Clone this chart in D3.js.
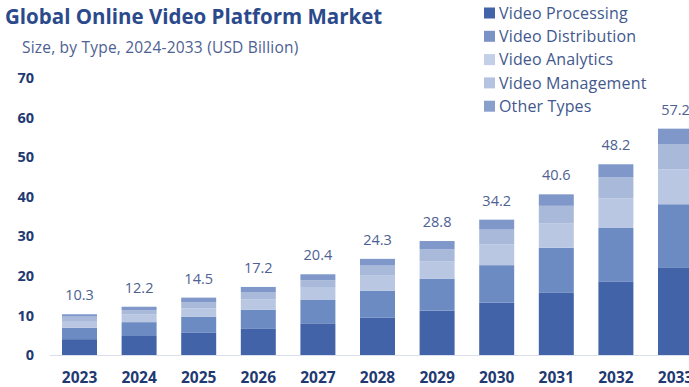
<!DOCTYPE html>
<html>
<head>
<meta charset="utf-8">
<script src="https://cdn.jsdelivr.net/npm/d3@7/dist/d3.min.js"></script>
<style>
  html, body { margin: 0; padding: 0; background: #ffffff; overflow: hidden; }
  svg { display: block; font-family: "Open Sans", "DejaVu Sans", sans-serif; }
</style>
</head>
<body>
<svg id="chart" width="689" height="387"></svg>
<script>
// Market size by type (USD Billion)
const years = ["2023", "2024", "2025", "2026", "2027", "2028", "2029", "2030", "2031", "2032", "2033"];
const seriesNames = ["Video Processing", "Video Distribution", "Video Analytics", "Video Management", "Other Types"];
const videoProcessing   = [4.0, 4.8, 5.6, 6.6, 8.0, 9.4, 11.2, 13.2, 15.7, 18.6, 22.0];
const videoDistribution = [2.9, 3.5, 4.1, 4.8, 5.9, 6.8, 8.1, 9.5, 11.4, 13.5, 16.1];
const videoAnalytics    = [1.5, 2.0, 2.1, 2.7, 3.1, 4.0, 4.4, 5.3, 6.2, 7.5, 8.8];
const videoManagement   = [1.3, 1.0, 1.5, 1.7, 1.9, 2.4, 3.0, 3.7, 4.4, 5.3, 6.3];
const otherTypes        = [0.6, 0.9, 1.2, 1.4, 1.5, 1.7, 2.1, 2.5, 2.9, 3.3, 4.0];
const totals            = [10.3, 12.2, 14.5, 17.2, 20.4, 24.3, 28.8, 34.2, 40.6, 48.2, 57.2];
const yTicks = [0, 10, 20, 30, 40, 50, 60, 70];

const colors = ["#4263a8", "#6c8bc2", "#b9c7e2", "#a8b9da", "#7f97c9"];
const legendColors = ["#4263a8", "#7a93c6", "#c3cfe6", "#b3c3e0", "#8aa0cc"];

const seriesValues = [videoProcessing, videoDistribution, videoAnalytics, videoManagement, otherTypes];
const table = years.map((y, i) => {
  const row = { year: y };
  seriesNames.forEach((s, k) => { row[s] = seriesValues[k][i]; });
  return row;
});

const svg = d3.select("#chart");

const x = d3.scaleBand()
  .domain(years)
  .range([37.4, 717.6])
  .paddingInner(0.413)
  .paddingOuter(0.413);

const y = d3.scaleLinear()
  .domain([0, 70])
  .range([355, 78]);

// Title and subtitle
svg.append("text")
  .attr("x", 5).attr("y", 24)
  .attr("fill", "#2b4a8c")
  .attr("font-size", 20.5)
  .attr("font-weight", 700)
  .text("Global Online Video Platform Market");

svg.append("text")
  .attr("x", 22).attr("y", 53)
  .attr("fill", "#4d6192")
  .attr("font-size", 15.5)
  .attr("letter-spacing", 0.2)
  .text("Size, by Type, 2024-2033 (USD Billion)");

// Y axis labels
const yAxis = d3.axisLeft(y).tickValues(yTicks).tickSize(0).tickPadding(0);
const yG = svg.append("g").attr("transform", "translate(34,0)").call(yAxis);
yG.select(".domain").remove();
yG.selectAll("text")
  .attr("fill", "#1f3a72")
  .attr("font-size", 14.5)
  .attr("font-weight", 700)
  .attr("font-family", "\"Open Sans\", sans-serif");

// Baseline
svg.append("line")
  .attr("x1", 50).attr("x2", 689)
  .attr("y1", y(0) + 0.5).attr("y2", y(0) + 0.5)
  .attr("stroke", "#d9dfec")
  .attr("stroke-width", 1.2);

// Stacked bars
const stack = d3.stack().keys(seriesNames);
const layers = stack(table);

svg.append("g")
  .selectAll("g")
  .data(layers)
  .join("g")
  .attr("fill", (d, i) => colors[i])
  .selectAll("rect")
  .data(d => d)
  .join("rect")
  .attr("x", d => x(d.data.year))
  .attr("width", x.bandwidth())
  .attr("y", d => y(d[1]))
  .attr("height", d => y(d[0]) - y(d[1]));

// Total labels
svg.append("g")
  .selectAll("text")
  .data(years)
  .join("text")
  .attr("x", d => x(d) + x.bandwidth() / 2)
  .attr("y", (d, i) => y(totals[i]) - 14)
  .attr("text-anchor", "middle")
  .attr("fill", "#4d6192")
  .attr("font-size", 14.5)
  .text((d, i) => totals[i].toFixed(1));

// X axis labels
const xAxis = d3.axisBottom(x).tickSize(0).tickPadding(0);
const xG = svg.append("g").attr("transform", "translate(0,372)").call(xAxis);
xG.select(".domain").remove();
xG.selectAll("text")
  .attr("fill", "#1f3a72")
  .attr("font-size", 15.5)
  .attr("font-weight", 700)
  .attr("font-family", "\"Open Sans\", sans-serif");

// Legend
const legend = svg.append("g")
  .selectAll("g")
  .data(seriesNames)
  .join("g")
  .attr("transform", (d, i) => `translate(484,${13 + i * 23.3})`);

legend.append("rect")
  .attr("x", 0).attr("y", -5.5)
  .attr("width", 11).attr("height", 11)
  .attr("fill", (d, i) => legendColors[i]);

legend.append("text")
  .attr("x", 15).attr("y", 0)
  .attr("dy", "0.35em")
  .attr("fill", "#42588e")
  .attr("font-size", 16)
  .attr("letter-spacing", 0.15)
  .text(d => d);
</script>
</body>
</html>
